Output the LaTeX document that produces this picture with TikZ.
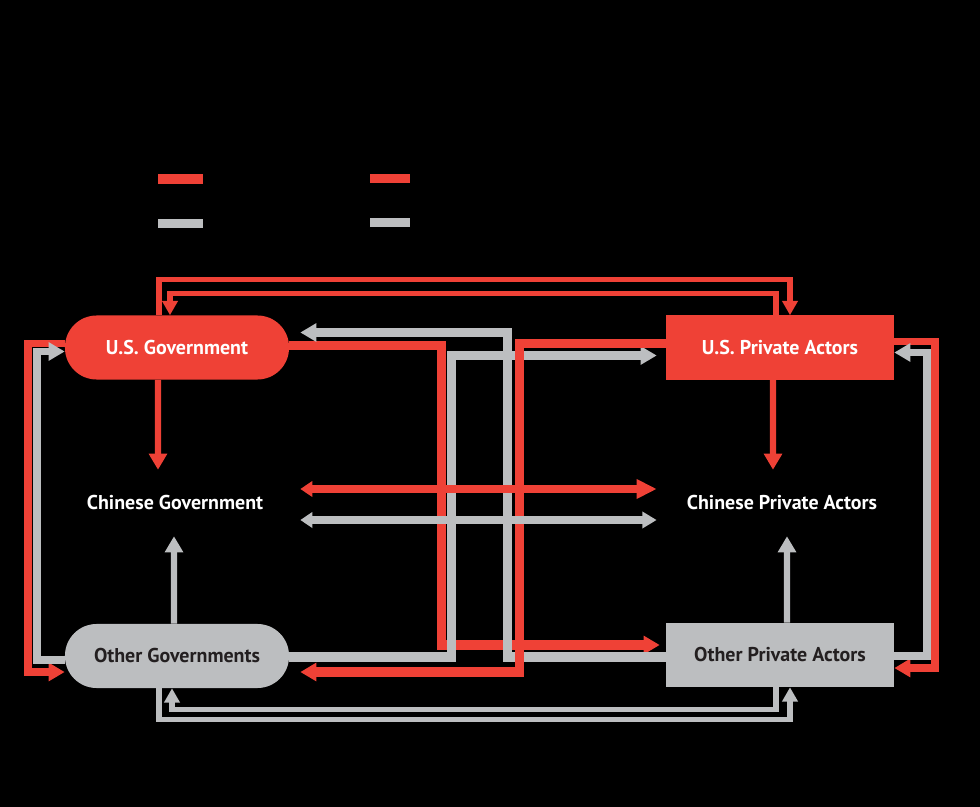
\documentclass[tikz,border=0pt]{standalone}
\usepackage{fontspec}
\setmainfont{PT Sans}
\usetikzlibrary{positioning,arrows.meta}
\definecolor{FlowRed}{HTML}{EF4136}
\definecolor{FlowGray}{HTML}{BCBEC0}
\definecolor{InkBlack}{HTML}{231F20}

\begin{document}
\begin{tikzpicture}[x=0.025cm,y=-0.025cm,
  every node/.style={font=\bfseries\fontsize{14.2}{16}\selectfont,align=center,inner sep=0pt},
  pill/.style={rounded corners=0.79cm,minimum width=5.6cm,minimum height=1.6cm},
  box/.style={minimum width=5.7cm,minimum height=1.6cm},
  actor/.style={text=white,minimum width=6.25cm,minimum height=1.65cm},
  redln/.style={draw=FlowRed,line width=5.5pt,-{Triangle[length=4mm,width=4.4mm]}},
  grayln/.style={draw=FlowGray,line width=5.5pt,-{Triangle[length=4mm,width=4.4mm]}},
  slimln/.style={line width=3.8pt,-{Triangle[length=3.6mm,width=3.8mm]}},
  crossln/.style={line width=6.5pt}]
  \fill[black] (0,0) rectangle (980,807);
  % legend swatches
  \fill[FlowRed] (158,174) rectangle (203,184);
  \fill[FlowRed] (370,174) rectangle (410,183);
  \fill[FlowGray] (158,219) rectangle (203,228);
  \fill[FlowGray] (370,218) rectangle (410,227);
  % actors
  \node[pill,fill=FlowRed,text=white] (usgov) at (177,347.5) {U.S. Government};
  \node[box,fill=FlowRed,text=white] (uspriv) at (780,347.5) {U.S. Private Actors};
  \node[actor] (chgov) at (175,503) {Chinese Government};
  \node[actor] (chpriv) at (782,503) {Chinese Private Actors};
  \node[pill,fill=FlowGray,text=InkBlack] (othgov) at (177,656) {Other Governments};
  \node[box,fill=FlowGray,text=InkBlack] (othpriv) at (780,655) {Other Private Actors};
  % top and bottom loops
  \draw[redln,slimln] ([xshift=-0.45cm]usgov.north) -- ++(0,-36) -| ([xshift=0.25cm]uspriv.north);
  \draw[redln,slimln] ([xshift=-0.1cm]uspriv.north) -- ++(0,-22) -| ([xshift=-0.175cm]usgov.north);
  \draw[grayln,slimln] ([xshift=-0.45cm]othgov.south) -- ++(0,31) -| ([xshift=0.25cm]othpriv.south);
  \draw[grayln,slimln] ([xshift=-0.1cm]othpriv.south) -- ++(0,22) -| ([xshift=-0.125cm]othgov.south);
  % side loops
  \draw[redln] ([yshift=0.1cm]usgov.west) -- ++(-37,0) |- ([yshift=-0.4cm]othgov.west);
  \draw[grayln] ([yshift=-0.1cm]othgov.west) -- ++(-28,0) |- ([yshift=-0.1cm]usgov.west);
  \draw[redln] ([yshift=0.15cm]uspriv.east) -- ++(41,0) |- ([yshift=-0.325cm]othpriv.east);
  \draw[grayln] ([yshift=-0.025cm]othpriv.east) -- ++(33,0) |- ([yshift=-0.125cm]uspriv.east);
  % into the Chinese actors
  \draw[redln,line width=4.5pt] ([xshift=-0.475cm]usgov.south) -- ([xshift=-0.425cm]chgov.north);
  \draw[redln,line width=4.5pt] ([xshift=-0.175cm]uspriv.south) -- ([xshift=-0.225cm]chpriv.north);
  \draw[grayln,line width=4.5pt] ([xshift=-0.075cm]othgov.north) -- ([xshift=-0.025cm]chgov.south);
  \draw[grayln,line width=4.5pt] ([xshift=0.175cm]othpriv.north) -- ([xshift=0.125cm]chpriv.south);
  % crossing flows
  \draw[redln,crossln,shorten >=0.15cm] ([yshift=0.05cm]usgov.east) -- ++(152,0) |- ([yshift=0.25cm]othpriv.west);
  \draw[grayln,crossln,shorten >=0.225cm] ([yshift=-0.025cm]othgov.east) -- ++(162,0) |- ([yshift=-0.2cm]uspriv.west);
  \draw[grayln,crossln,shorten >=0.275cm] ([yshift=-0.05cm]othpriv.west) -- ++(-158,0) |- ([yshift=0.375cm]usgov.east);
  \draw[redln,crossln,shorten >=0.275cm] ([yshift=0.1cm]uspriv.west) -- ++(-146,0) |- ([yshift=-0.4cm]othgov.east);
  % between the Chinese actors
  \draw[redln,line width=5pt,{Triangle[length=3mm,width=3.8mm]}-{Triangle[length=5mm,width=4.6mm]}] ([yshift=0.35cm]chgov.east) -- ([yshift=0.35cm]chpriv.west);
  \draw[grayln,line width=5pt,{Triangle[length=3mm,width=3.8mm]}-{Triangle[length=3.6mm,width=4mm]}] ([yshift=-0.425cm]chgov.east) -- ([yshift=-0.425cm]chpriv.west);
\end{tikzpicture}
\end{document}
